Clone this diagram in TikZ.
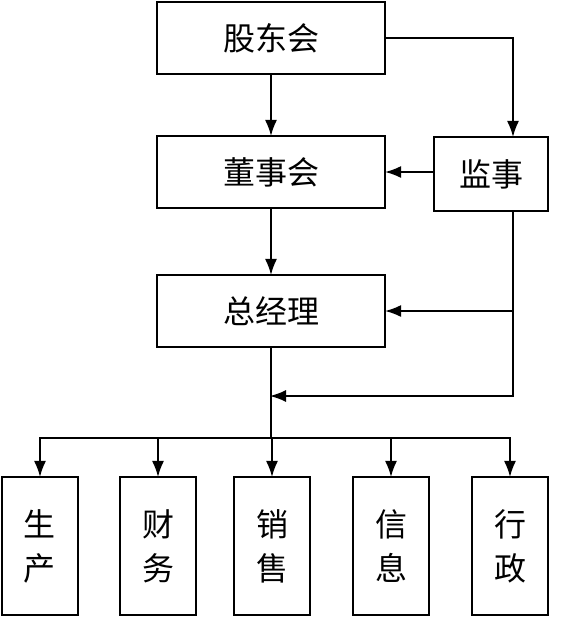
\documentclass[tikz,border=0pt]{standalone}
\usepackage{fontspec}
\newfontfamily\cjk{Noto Sans CJK SC}
\usetikzlibrary{arrows.meta, positioning, calc}

\begin{document}
\begin{tikzpicture}[x=0.5pt, y=-0.5pt, >={Latex[length=8pt,width=6pt]},
    box/.style={draw, line width=1.1pt, inner sep=0pt, font=\cjk\fontsize{16}{18}\selectfont},
    wide/.style={box, minimum width=114pt, minimum height=36pt},
    dept/.style={box, minimum width=38pt, minimum height=69pt, align=center,
        font=\cjk\fontsize{16}{22}\selectfont},
    line/.style={line width=0.75pt, shorten >=-0.5pt}]
    \useasboundingbox (0,0) rectangle (582,617);

    \node[wide] (gdh) at (271,38) {股东会};
    \node[wide] (dsh) at (271,172) {董事会};
    \node[box, minimum width=57pt, minimum height=37pt] (js) at (491,174) {监事};
    \node[wide] (zjl) at (271,311) {总经理};

    \node[dept] (sc) at (40,546) {生\\产};
    \node[dept] (cw) at (158,546) {财\\务};
    \node[dept] (xs) at (272,546) {销\\售};
    \node[dept] (xx) at (391,546) {信\\息};
    \node[dept] (xz) at (510,546) {行\\政};

    \coordinate (jstop) at ([xshift=11pt]js.north);
    \coordinate (jsbot) at ([xshift=11pt]js.south);
    \coordinate (back) at (zjl.south |- 0,396);
    \coordinate (bus) at (zjl.south |- 0,438);

    \draw[line, ->] (gdh) -- (dsh);
    \draw[line, ->] (dsh) -- (zjl);
    \draw[line, ->] (gdh.east) -| (jstop);
    \draw[line, ->] (js.west |- dsh.east) -- (dsh.east);
    \draw[line, ->] (jsbot) |- (zjl.east);
    \draw[line, ->] (jsbot) |- (back);
    \draw[line, shorten >=0pt] (zjl.south) -- (bus);
    \foreach \d in {sc, cw, xs, xx, xz} {
        \draw[line, ->] (bus) -| (\d.north);
    }
\end{tikzpicture}
\end{document}
